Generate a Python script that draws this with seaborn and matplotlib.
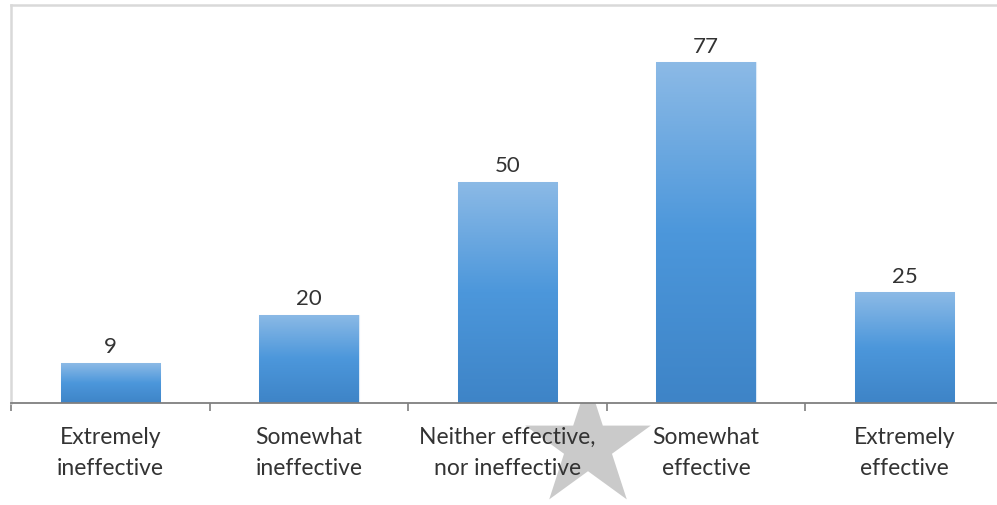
import numpy as np
import pandas as pd
import matplotlib
matplotlib.use("Agg")
import matplotlib.pyplot as plt
from matplotlib.patches import Polygon
from matplotlib.colors import LinearSegmentedColormap
import seaborn as sns

categories = ["Extremely\nineffective", "Somewhat\nineffective",
              "Neither effective,\nnor ineffective", "Somewhat\neffective",
              "Extremely\neffective"]
values = [9, 20, 50, 77, 25]

df = pd.DataFrame({"category": categories, "count": values})

sns.set_theme(style="white")
plt.rcParams["font.family"] = ["Lato", "DejaVu Sans"]

fig = plt.figure(figsize=(9.97, 5.05), dpi=100)
W, H = 997, 505
TEXT = "#333333"

# five-pointed star sitting behind the plot area
cx, cy, R = 588, 446, 66
r_in = R * 0.382
pts = []
for k in range(10):
    ang = np.pi / 2 + k * np.pi / 5
    rad = R if k % 2 == 0 else r_in
    pts.append(((cx + rad * np.cos(ang)) / W, (H - (cy - rad * np.sin(ang))) / H))
fig.patches.append(Polygon(pts, closed=True, transform=fig.transFigure,
                           facecolor="#CACACA", edgecolor="none", zorder=0))

ax = fig.add_axes([11 / W, (H - 403) / H, 993 / W, 398 / H])
ax.set_facecolor("white")
ax.set_zorder(1)

sns.barplot(data=df, x="category", y="count", width=0.5, ax=ax,
            color="#4F9DE0", saturation=1, zorder=2)

cmap = LinearSegmentedColormap.from_list(
    "barfade", ["#3E84C7", "#4C97DB", "#8CBAE6"])
grad = np.linspace(0, 1, 256).reshape(-1, 1)
for patch, v in zip(ax.patches, values):
    x0 = patch.get_x()
    w = patch.get_width()
    h = patch.get_height()
    im = ax.imshow(grad, cmap=cmap, aspect="auto", origin="lower",
                   extent=[x0, x0 + w, 0, h], zorder=2)
    im.set_clip_path(patch)
    patch.set_facecolor("none")
    patch.set_edgecolor("#DCEAF7")
    patch.set_linewidth(0.8)
    ax.text(x0 + w / 2, h + 1.3, f"{v}", ha="center", va="bottom",
            fontsize=16, color=TEXT, zorder=3)

ax.set_xlim(-0.5, len(categories) - 0.5)
ax.set_ylim(0, 90)
ax.set_xlabel("")
ax.set_ylabel("")
ax.set_yticks([])

ax.set_xticks(range(len(categories)))
ax.set_xticklabels(categories, fontsize=16.5, color=TEXT, linespacing=1.62)
ax.tick_params(axis="x", which="major", length=0, pad=17)
ax.set_xticks(np.arange(-0.5, len(categories), 1.0), minor=True)
ax.tick_params(axis="x", which="minor", direction="out", length=6,
               width=1.2, color="#7F7F7F", bottom=True)

for side in ["top", "left", "right"]:
    ax.spines[side].set_color("#D9D9D9")
    ax.spines[side].set_linewidth(1.8)
ax.spines["bottom"].set_color("#7F7F7F")
ax.spines["bottom"].set_linewidth(1.3)

fig.savefig("out.png", dpi=100, facecolor="white")
